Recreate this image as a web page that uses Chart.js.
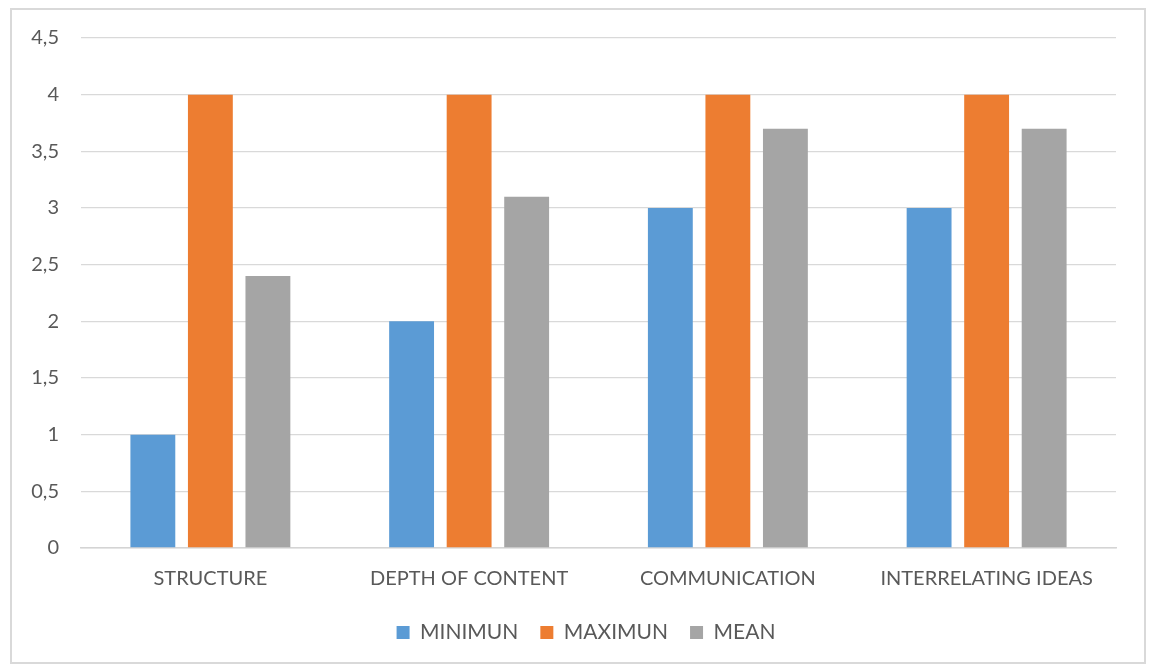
<!DOCTYPE html>
<html>
<head>
<meta charset="utf-8">
<style>
  html, body { margin: 0; padding: 0; background: #ffffff; }
  #wrap { position: relative; width: 1151px; height: 665px; }
</style>
<script src="https://cdn.jsdelivr.net/npm/chart.js@4/dist/chart.umd.min.js"></script>
</head>
<body>
<div id="wrap"><canvas id="chart" width="1151" height="665"></canvas></div>
<script>
const categories = ['STRUCTURE', 'DEPTH OF CONTENT', 'COMMUNICATION', 'INTERRELATING IDEAS'];
const minimumValues = [1, 2, 3, 3];
const maximumValues = [4, 4, 4, 4];
const meanValues = [2.4, 3.1, 3.7, 3.7];
const seriesNames = ['MINIMUN', 'MAXIMUN', 'MEAN'];

const textColor = '#595959';
const fontFamily = 'Lato, "Open Sans", sans-serif';

// Light frame around the whole chart
const framePlugin = {
  id: 'frame',
  beforeDraw(chart) {
    const ctx = chart.ctx;
    ctx.save();
    ctx.fillStyle = '#ffffff';
    ctx.fillRect(0, 0, chart.width, chart.height);
    ctx.strokeStyle = '#d9d9d9';
    ctx.lineWidth = 2;
    ctx.strokeRect(11, 9, 1134, 654);
    ctx.restore();
  }
};

// Nudge the legend box so it sits centred under the plot area
const legendShiftPlugin = {
  id: 'legendShift',
  afterLayout(chart) {
    const lg = chart.legend;
    if (lg) {
      lg.left += 22;
      lg.right += 22;
    }
  }
};

new Chart(document.getElementById('chart'), {
  type: 'bar',
  data: {
    labels: categories,
    datasets: [
      { label: seriesNames[0], data: minimumValues, backgroundColor: '#5B9BD5' },
      { label: seriesNames[1], data: maximumValues, backgroundColor: '#ED7D31' },
      { label: seriesNames[2], data: meanValues, backgroundColor: '#A5A5A5' }
    ]
  },
  options: {
    responsive: false,
    animation: false,
    datasets: {
      bar: { categoryPercentage: 0.667, barPercentage: 0.78 }
    },
    layout: { padding: { top: 38, right: 35, left: 12, bottom: 12 } },
    plugins: {
      tooltip: { enabled: false },
      legend: {
        position: 'bottom',
        labels: {
          color: textColor,
          font: { family: fontFamily, size: 21 },
          boxWidth: 13,
          boxHeight: 13,
          padding: 22
        }
      }
    },
    scales: {
      x: {
        afterFit(scale) { scale.height = 52; },
        grid: { display: false, drawTicks: false },
        border: { display: true, color: '#d4d4d4', width: 1.5 },
        ticks: {
          color: textColor,
          font: { family: fontFamily, size: 20 },
          padding: 19,
          maxRotation: 0
        }
      },
      y: {
        min: 0,
        max: 4.5,
        afterFit(scale) { scale.width = 69; },
        grid: { color: '#d9d9d9', lineWidth: 1.3, drawTicks: false },
        border: { display: false },
        ticks: {
          stepSize: 0.5,
          color: textColor,
          font: { family: fontFamily, size: 20 },
          padding: 22,
          callback: v => String(v).replace('.', ',')
        }
      }
    }
  },
  plugins: [framePlugin, legendShiftPlugin]
});
</script>
</body>
</html>
